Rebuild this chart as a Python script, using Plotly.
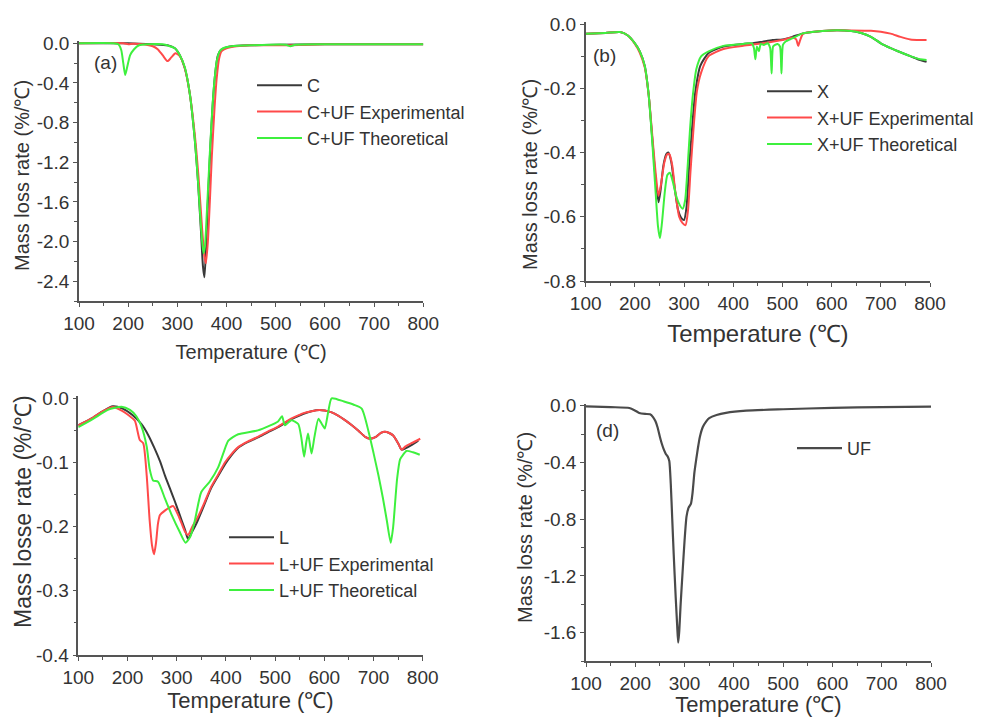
import plotly.graph_objects as go

# ---------------- (a) cellulose ----------------
t_c = [100, 200, 250, 280, 295, 305, 315, 325, 335, 342, 348, 352, 355, 358, 362, 367, 372, 377, 382, 388, 395, 410, 450, 500, 600, 700, 800]
dtg_c = [0, 0, -0.01, -0.02, -0.05, -0.12, -0.25, -0.5, -0.95, -1.4, -1.9, -2.25, -2.36, -2.1, -1.6, -1.05, -0.6, -0.3, -0.13, -0.07, -0.05, -0.03, -0.02, -0.015, -0.01, -0.01, -0.01]

t_c_exp = [100, 190, 200, 210, 230, 250, 260, 270, 280, 288, 296, 305, 315, 325, 335, 343, 350, 355, 358, 362, 366, 370, 375, 380, 385, 390, 400, 420, 450, 530, 600, 700, 800]
dtg_c_exp = [0, 0, -0.01, -0.005, -0.01, -0.03, -0.06, -0.12, -0.18, -0.14, -0.1, -0.13, -0.25, -0.5, -0.9, -1.35, -1.85, -2.15, -2.22, -2.0, -1.6, -1.15, -0.7, -0.35, -0.15, -0.08, -0.05, -0.03, -0.02, -0.02, -0.01, -0.01, -0.01]

t_c_theo = [100, 170, 180, 186, 190, 194, 198, 204, 212, 222, 240, 270, 295, 305, 315, 325, 335, 342, 348, 353, 356, 360, 365, 370, 375, 380, 386, 393, 410, 450, 520, 530, 540, 600, 700, 800]
dtg_c_theo = [0, 0, -0.01, -0.07, -0.2, -0.32, -0.24, -0.12, -0.06, -0.02, -0.01, -0.01, -0.05, -0.12, -0.24, -0.5, -0.95, -1.4, -1.85, -2.12, -2.05, -1.7, -1.2, -0.75, -0.4, -0.18, -0.08, -0.05, -0.03, -0.02, -0.015, -0.03, -0.015, -0.01, -0.01, -0.01]

# ---------------- (b) xylan ----------------
t_x = [100, 140, 170, 185, 200, 210, 220, 228, 235, 242, 248, 252, 258, 264, 268, 274, 280, 288, 295, 300, 305, 310, 316, 323, 333, 350, 380, 420, 440, 460, 480, 500, 520, 540, 560, 600, 640, 660, 680, 700, 720, 740, 760, 780, 793]
dtg_x = [-0.03, -0.028, -0.025, -0.035, -0.06, -0.085, -0.13, -0.22, -0.35, -0.48, -0.555, -0.52, -0.44, -0.405, -0.40, -0.43, -0.5, -0.58, -0.605, -0.61, -0.57, -0.45, -0.33, -0.21, -0.13, -0.09, -0.07, -0.062, -0.06, -0.055, -0.05, -0.048, -0.04, -0.03, -0.025, -0.02, -0.022, -0.028, -0.04, -0.06, -0.075, -0.088, -0.1, -0.112, -0.118]

t_x_exp = [100, 140, 170, 185, 200, 210, 220, 228, 235, 242, 248, 253, 260, 266, 270, 276, 282, 290, 297, 303, 308, 313, 319, 326, 335, 350, 380, 420, 460, 500, 520, 528, 532, 536, 542, 560, 600, 640, 680, 700, 720, 740, 760, 780, 793]
dtg_x_exp = [-0.03, -0.028, -0.025, -0.035, -0.062, -0.09, -0.135, -0.22, -0.34, -0.46, -0.535, -0.5, -0.43, -0.405, -0.405, -0.44, -0.52, -0.6, -0.62, -0.626, -0.58, -0.46, -0.33, -0.21, -0.15, -0.1, -0.078, -0.068, -0.06, -0.05, -0.042, -0.048, -0.068, -0.05, -0.03, -0.025, -0.02, -0.02, -0.021, -0.024, -0.03, -0.04, -0.048, -0.05, -0.05]

t_x_theo = [100, 140, 170, 185, 200, 210, 220, 228, 235, 242, 247, 251, 255, 261, 266, 271, 277, 283, 290, 297, 302, 307, 312, 318, 325, 335, 350, 380, 420, 438, 442, 445, 448, 452, 456, 462, 470, 475, 478, 481, 485, 490, 495, 498, 501, 506, 520, 540, 560, 600, 640, 660, 680, 700, 720, 740, 760, 780, 793]
dtg_x_theo = [-0.03, -0.028, -0.025, -0.035, -0.06, -0.085, -0.13, -0.22, -0.36, -0.52, -0.63, -0.667, -0.62, -0.52, -0.47, -0.463, -0.49, -0.53, -0.56, -0.575, -0.55, -0.45, -0.33, -0.22, -0.14, -0.1, -0.085, -0.068, -0.062, -0.06, -0.075, -0.11, -0.07, -0.085, -0.062, -0.065, -0.06, -0.075, -0.154, -0.07, -0.065, -0.062, -0.07, -0.154, -0.065, -0.055, -0.045, -0.03, -0.025, -0.02, -0.022, -0.028, -0.04, -0.06, -0.075, -0.088, -0.1, -0.11, -0.112]

# ---------------- (c) lignin ----------------
t_l = [100, 130, 150, 170, 190, 210, 228, 242, 255, 266, 276, 286, 296, 304, 310, 317, 323, 330, 337, 343, 355, 370, 385, 398, 410, 425, 445, 465, 485, 506, 525, 540, 558, 574, 590, 601, 615, 628, 642, 656, 670, 683, 693, 705, 715, 723, 732, 740, 750, 757, 765, 777, 791]
dtg_l = [-0.042, -0.03, -0.02, -0.0125, -0.016, -0.026, -0.04, -0.057, -0.078, -0.098, -0.12, -0.14, -0.16, -0.177, -0.19, -0.205, -0.219, -0.21, -0.2, -0.19, -0.168, -0.14, -0.12, -0.103, -0.09, -0.077, -0.068, -0.061, -0.053, -0.045, -0.036, -0.03, -0.024, -0.02, -0.018, -0.019, -0.022, -0.027, -0.034, -0.042, -0.051, -0.06, -0.063, -0.06, -0.054, -0.052, -0.054, -0.058, -0.07, -0.08, -0.078, -0.073, -0.066]

t_l_exp = [100, 130, 150, 170, 190, 205, 215, 225, 232, 239, 245, 250, 254, 258, 262, 266, 276, 286, 293, 303, 310, 317, 323, 333, 343, 355, 370, 385, 398, 410, 425, 445, 465, 485, 506, 525, 540, 558, 574, 590, 601, 615, 628, 642, 656, 670, 683, 693, 705, 715, 723, 732, 740, 750, 757, 765, 777, 795]
dtg_l_exp = [-0.042, -0.03, -0.02, -0.0135, -0.02, -0.028, -0.035, -0.065, -0.07, -0.12, -0.19, -0.23, -0.243, -0.225, -0.195, -0.182, -0.175, -0.17, -0.168, -0.182, -0.195, -0.208, -0.213, -0.198, -0.185, -0.165, -0.138, -0.118, -0.1, -0.088, -0.076, -0.067, -0.06, -0.052, -0.044, -0.035, -0.029, -0.023, -0.02, -0.018, -0.019, -0.022, -0.027, -0.034, -0.042, -0.051, -0.06, -0.063, -0.06, -0.054, -0.052, -0.054, -0.058, -0.07, -0.08, -0.075, -0.07, -0.063]

t_l_theo = [100, 130, 160, 188, 205, 218, 228, 239, 245, 252, 262, 276, 290, 306, 318, 328, 337, 350, 367, 384, 395, 405, 425, 465, 506, 514, 520, 533, 547, 553, 559, 563, 567, 574, 580, 588, 595, 601, 608, 615, 640, 660, 676, 690, 700, 710, 719, 727, 735, 740, 744, 748, 754, 760, 767, 780, 794]
dtg_l_theo = [-0.045, -0.032, -0.018, -0.013, -0.018, -0.028, -0.043, -0.075, -0.11, -0.128, -0.13, -0.156, -0.182, -0.208, -0.225, -0.215, -0.19, -0.146, -0.13, -0.108, -0.085, -0.066, -0.056, -0.05, -0.036, -0.028, -0.042, -0.034, -0.04, -0.06, -0.091, -0.07, -0.055, -0.086, -0.06, -0.032, -0.04, -0.047, -0.021, 0.0, -0.005, -0.01, -0.016, -0.052, -0.085, -0.12, -0.155, -0.19, -0.225, -0.2, -0.162, -0.125, -0.095, -0.088, -0.082, -0.084, -0.088]

# ---------------- (d) urea-formaldehyde ----------------
t_uf = [100, 150, 188, 200, 208, 220, 230, 236, 241, 245, 250, 254, 258, 262, 266, 269, 272, 275, 278, 282, 285, 287, 289, 292, 296, 300, 304, 308, 313, 316, 320, 324, 327, 331, 337, 344, 350, 365, 384, 425, 500, 600, 700, 800]
dtg_uf = [-0.004, -0.01, -0.016, -0.035, -0.051, -0.058, -0.06, -0.08, -0.11, -0.15, -0.22, -0.27, -0.31, -0.34, -0.36, -0.39, -0.55, -0.8, -1.05, -1.35, -1.55, -1.67, -1.6, -1.4, -1.17, -0.95, -0.78, -0.72, -0.69, -0.62, -0.47, -0.37, -0.3, -0.22, -0.15, -0.11, -0.087, -0.065, -0.05, -0.035, -0.025, -0.015, -0.01, -0.006]

# ---------------- labels ----------------
temp_ticks = [100, 200, 300, 400, 500, 600, 700, 800]
temp_tick_text = ["100", "200", "300", "400", "500", "600", "700", "800"]
a_ticks = [0.0, -0.4, -0.8, -1.2, -1.6, -2.0, -2.4]
a_tick_text = ["0.0", "-0.4", "-0.8", "-1.2", "-1.6", "-2.0", "-2.4"]
b_ticks = [0.0, -0.2, -0.4, -0.6, -0.8]
b_tick_text = ["0.0", "-0.2", "-0.4", "-0.6", "-0.8"]
c_ticks = [0.0, -0.1, -0.2, -0.3, -0.4]
c_tick_text = ["0.0", "-0.1", "-0.2", "-0.3", "-0.4"]
d_ticks = [0.0, -0.4, -0.8, -1.2, -1.6]
d_tick_text = ["0.0", "-0.4", "-0.8", "-1.2", "-1.6"]

BLACK = "#3a3a3a"
RED = "#ff4a4a"
GREEN = "#3ef03e"
TEXT = "#333333"
AXIS = "#555555"
FONT = "Liberation Sans, Arial, sans-serif"

fig = go.Figure()

def add(x, y, name, color, ax, legend, width=2):
    fig.add_trace(go.Scatter(
        x=x, y=y, name=name, mode="lines",
        line=dict(color=color, width=width, shape="spline", smoothing=0.6),
        xaxis="x" + ax, yaxis="y" + ax, legend=legend,
    ))

add(t_c, dtg_c, "C", BLACK, "", "legend")
add(t_c_exp, dtg_c_exp, "C+UF Experimental", RED, "", "legend")
add(t_c_theo, dtg_c_theo, "C+UF Theoretical", GREEN, "", "legend")

add(t_x, dtg_x, "X", BLACK, "2", "legend2")
add(t_x_exp, dtg_x_exp, "X+UF Experimental", RED, "2", "legend2")
add(t_x_theo, dtg_x_theo, "X+UF Theoretical", GREEN, "2", "legend2")

add(t_l, dtg_l, "L", BLACK, "3", "legend3")
add(t_l_exp, dtg_l_exp, "L+UF Experimental", RED, "3", "legend3")
add(t_l_theo, dtg_l_theo, "L+UF Theoretical", GREEN, "3", "legend3")

add(t_uf, dtg_uf, "UF", "#4a4a4a", "4", "legend4", width=2.2)

W, H = 990, 717

def px_x(a, b):
    return [a / W, b / W]

def px_y(top, bottom):
    return [1 - bottom / H, 1 - top / H]

def xaxis(dom, anchor, title_size, standoff):
    return dict(
        domain=dom, anchor=anchor, range=[100, 800],
        tickvals=temp_ticks, ticktext=temp_tick_text,
        ticks="outside", ticklen=4, tickwidth=1.3, tickcolor=AXIS,
        minor=dict(dtick=50, tick0=100, ticks="outside", ticklen=3, tickcolor=AXIS),
        showline=True, linecolor=AXIS, linewidth=1.5, mirror=False,
        showgrid=False, zeroline=False,
        tickfont=dict(size=19, color=TEXT, family=FONT),
        title=dict(text="Temperature (℃)", font=dict(size=title_size, color=TEXT, family=FONT), standoff=standoff),
        automargin=False,
    )

def yaxis(dom, anchor, rng, tv, tt, minor_dt):
    return dict(
        domain=dom, anchor=anchor, range=rng,
        tickvals=tv, ticktext=tt,
        ticks="outside", ticklen=4, tickwidth=1.3, tickcolor=AXIS,
        minor=dict(dtick=minor_dt, tick0=0, ticks="outside", ticklen=3, tickcolor=AXIS),
        showline=True, linecolor=AXIS, linewidth=1.5, mirror=False,
        showgrid=False, zeroline=False,
        tickfont=dict(size=19, color=TEXT, family=FONT),
        automargin=False,
    )

legend_style = dict(bgcolor="rgba(0,0,0,0)", font=dict(size=18, color=TEXT, family=FONT),
                    xanchor="left", yanchor="top", tracegroupgap=0, itemwidth=45)

fig.update_layout(
    width=W, height=H,
    margin=dict(l=0, r=0, t=0, b=0),
    paper_bgcolor="white", plot_bgcolor="white",
    showlegend=True,
    xaxis=xaxis(px_x(79, 423.3), "y", 20, 12),
    yaxis=yaxis(px_y(41.3, 301), "x", [-2.6, 0.02], a_ticks, a_tick_text, 0.2),
    xaxis2=xaxis(px_x(585.7, 930), "y2", 24, 13),
    yaxis2=yaxis(px_y(22.4, 281), "x2", [-0.8, 0.005], b_ticks, b_tick_text, 0.1),
    xaxis3=xaxis(px_x(78.3, 422.7), "y3", 22, 4),
    yaxis3=yaxis(px_y(396.4, 655), "x3", [-0.4, 0.003], c_ticks, c_tick_text, 0.05),
    xaxis4=xaxis(px_x(586, 931), "y4", 22, 7),
    yaxis4=yaxis(px_y(404.3, 661.1), "x4", [-1.8, 0.01], d_ticks, d_tick_text, 0.2),
    legend=dict(x=252 / W, y=1 - 67 / H, **legend_style),
    legend2=dict(x=762 / W, y=1 - 73 / H, **legend_style),
    legend3=dict(x=224 / W, y=1 - 519 / H, **legend_style),
    legend4=dict(x=792 / W, y=1 - 430 / H, **legend_style),
)

# panel tags
panel_labels = [("(a)", 105, 63), ("(b)", 604, 55), ("(d)", 607, 430)]
for text, cx, cy in panel_labels:
    fig.add_annotation(text=text, x=cx / W, y=1 - cy / H, xref="paper", yref="paper",
                       xanchor="center", yanchor="middle", showarrow=False,
                       font=dict(size=19, color=TEXT, family=FONT))

# vertical axis titles
y_titles = [("Mass loss rate (%/℃)", 22, 176, 20),
            ("Mass loss rate (%/℃)", 530, 175, 20),
            ("Mass losse rate (%/℃)", 23, 512, 23),
            ("Mass loss rate (%/℃)", 525, 528, 20)]
for text, cx, cy, size in y_titles:
    fig.add_annotation(text=text, x=cx / W, y=1 - cy / H, xref="paper", yref="paper",
                       xanchor="center", yanchor="middle", textangle=-90, showarrow=False,
                       font=dict(size=size, color=TEXT, family=FONT))

fig.write_html("out.html")
